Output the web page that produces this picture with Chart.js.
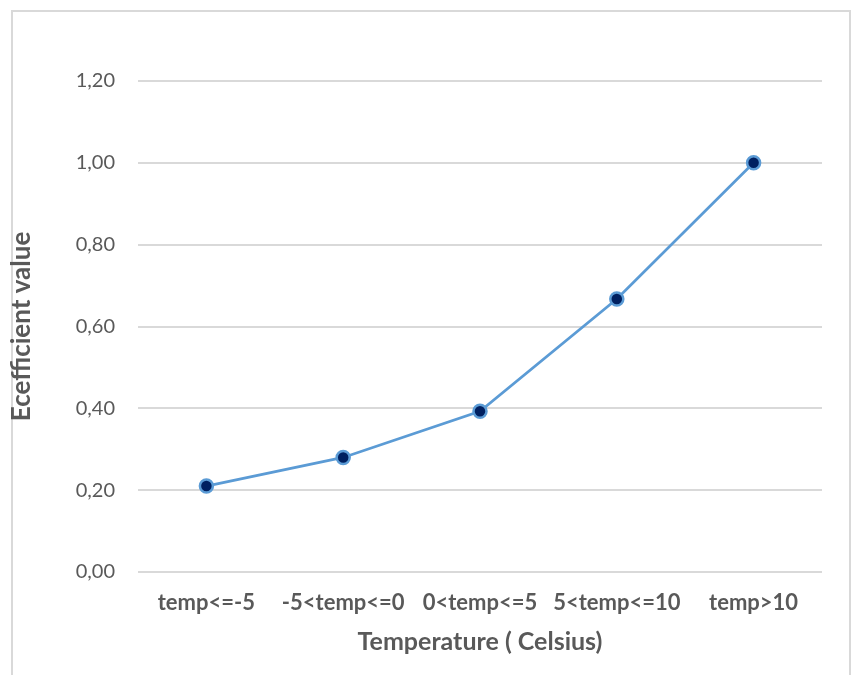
<!DOCTYPE html>
<html>
<head>
<meta charset="utf-8">
<script src="https://cdn.jsdelivr.net/npm/chart.js@4"></script>
<style>
  html, body { margin: 0; padding: 0; background: #fff; }
  #wrap { position: relative; width: 859px; height: 675px; overflow: hidden; }
  #frame { position: absolute; left: 11px; top: 10px; width: 840px; height: 700px; border: 2px solid #d9d9d9; box-sizing: border-box; }
  #chart { position: absolute; left: 0; top: 0; }
</style>
</head>
<body>
<div id="wrap">
  <div id="frame"></div>
  <canvas id="chart" width="859" height="675"></canvas>
</div>
<script>
// data
const categories = ['temp<=-5', '-5<temp<=0', '0<temp<=5', '5<temp<=10', 'temp>10']
const coefficients = [0.21, 0.28, 0.393, 0.667, 1.0]
const yTicks = [0, 0.2, 0.4, 0.6, 0.8, 1.0, 1.2]

const textColor = '#595959'
const gridColor = '#d9d9d9'

const ctx = document.getElementById('chart').getContext('2d')
new Chart(ctx, {
  type: 'line',
  data: {
    labels: categories,
    datasets: [{
      label: 'Ecefficient value',
      data: coefficients,
      borderColor: '#5b9bd5',
      borderWidth: 2.75,
      pointBackgroundColor: '#002060',
      pointBorderColor: '#5b9bd5',
      pointBorderWidth: 2.5,
      pointRadius: 6.5,
      tension: 0
    }]
  },
  options: {
    responsive: false,
    animation: false,
    layout: { padding: { left: 0, right: 37, top: 81, bottom: 0 } },
    plugins: {
      legend: { display: false },
      tooltip: { enabled: false }
    },
    scales: {
      x: {
        offset: true,
        grid: { display: false, drawTicks: false },
        border: { display: false },
        ticks: {
          color: textColor,
          padding: 18,
          maxRotation: 0,
          autoSkip: false,
          font: { family: 'Lato', size: 22, weight: 'bold' }
        },
        title: {
          display: true,
          text: 'Temperature ( Celsius)',
          color: textColor,
          padding: { top: 0, bottom: 18 },
          font: { family: 'Lato', size: 25, weight: 'bold' }
        },
        afterFit: (scale) => { scale.height = 103 }
      },
      y: {
        min: 0,
        max: 1.2,
        afterBuildTicks: (scale) => { scale.ticks = yTicks.map(v => ({ value: v })) },
        grid: { color: gridColor, lineWidth: 2, drawTicks: false },
        border: { display: false },
        ticks: {
          color: textColor,
          padding: 23,
          font: { family: 'Lato', size: 20 },
          callback: (v) => v.toFixed(2).replace('.', ',')
        },
        title: {
          display: true,
          text: 'Ecefficient value',
          color: textColor,
          padding: { top: 6, bottom: 0 },
          font: { family: 'Lato', size: 26, weight: 'bold' }
        },
        afterFit: (scale) => { scale.width = 138 }
      }
    }
  }
})
</script>
</body>
</html>
